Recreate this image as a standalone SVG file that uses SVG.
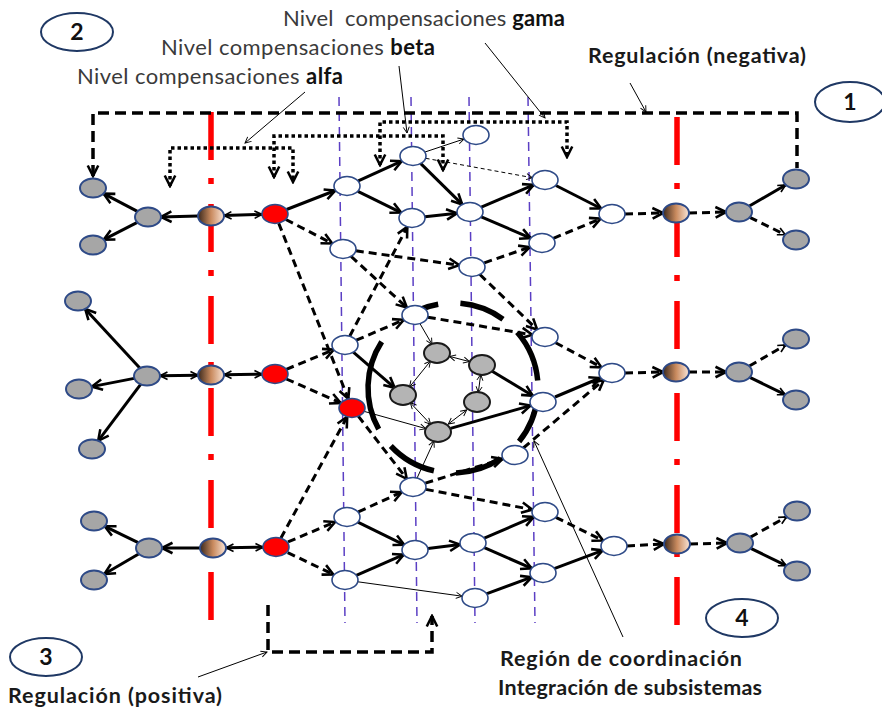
<svg xmlns="http://www.w3.org/2000/svg" width="882" height="710" viewBox="0 0 882 710">
<style>
.s{stroke:#000;stroke-width:3;fill:none}
.d{stroke:#000;stroke-width:3;stroke-dasharray:8 5;fill:none}
.t{stroke:#000;stroke-width:1;fill:none}
.td{stroke:#000;stroke-width:1;stroke-dasharray:4 3;fill:none}
.dot{stroke:#000;stroke-width:3.5;stroke-dasharray:3.5 3;fill:none}
.reg{stroke:#000;stroke-width:3.5;stroke-dasharray:11 6;fill:none}
.pl{stroke:#5b3fc4;stroke-width:1.5;stroke-dasharray:9 6}
.rl{stroke:#ff0000;stroke-width:5.5;stroke-dasharray:48 18 6 20}
.arc{stroke:#000;stroke-width:5.5;fill:none}
.w{fill:#fff;stroke:#2e4a87;stroke-width:1.6}
.g{fill:#a6a6a6;stroke:#2e4a87;stroke-width:2}
.r{fill:#ff0000;stroke:#2e4a87;stroke-width:1.6}
.gr{fill:url(#grad);stroke:#2e4a87;stroke-width:2}
.ig{fill:#b4b4b4;stroke:#1a1a1a;stroke-width:2}
.lv{font-family:Lato,"Open Sans","Liberation Sans",sans-serif;font-size:22px;fill:#3a3a3a}
.lb{font-family:Lato,"Open Sans","Liberation Sans",sans-serif;font-size:21.5px;font-weight:bold;fill:#1a1a1a}
.num{font-family:Lato,"Open Sans","Liberation Sans",sans-serif;font-size:23px;font-weight:bold;fill:#111;text-anchor:middle}
.ov{fill:#fff;stroke:#1f3864;stroke-width:2}
</style>
<defs>
<linearGradient id="grad" x1="0" y1="0" x2="1" y2="0">
<stop offset="0" stop-color="#3a281c"/>
<stop offset="0.5" stop-color="#c98a5e"/>
<stop offset="1" stop-color="#fbe6d8"/>
</linearGradient>
<marker id="a" viewBox="0 0 12 12" refX="10" refY="6" markerWidth="14" markerHeight="14" markerUnits="userSpaceOnUse" orient="auto-start-reverse">
<path d="M1,1.5 L10,6 L1,10.5" fill="none" stroke="#000" stroke-width="2.2" stroke-dasharray="none"/>
</marker>
<marker id="m" viewBox="0 0 12 12" refX="10" refY="6" markerWidth="10" markerHeight="10" markerUnits="userSpaceOnUse" orient="auto-start-reverse">
<path d="M1,1.5 L10,6 L1,10.5" fill="none" stroke="#000" stroke-width="2" stroke-dasharray="none"/>
</marker>
<marker id="s" viewBox="0 0 12 12" refX="10" refY="6" markerWidth="8" markerHeight="8" markerUnits="userSpaceOnUse" orient="auto-start-reverse">
<path d="M1,1.5 L10,6 L1,10.5" fill="none" stroke="#000" stroke-width="1.4" stroke-dasharray="none"/>
</marker>
</defs>
<rect width="882" height="710" fill="#fff"/>

<g id="guides">
<line class="pl" x1="339" y1="97" x2="345" y2="623"/>
<line class="pl" x1="411" y1="97" x2="417" y2="623"/>
<line class="pl" x1="469" y1="97" x2="475" y2="623"/>
<line class="pl" x1="528" y1="97" x2="535" y2="623"/>
<line class="rl" x1="211" y1="112" x2="211" y2="625"/>
<line class="rl" x1="677" y1="117" x2="677" y2="630"/>
</g>

<g id="coordination-circle">
<path class="arc" d="M403,319.2 A85,85 0 0 1 438.2,304.3"/>
<path class="arc" d="M460.4,303.3 A85,85 0 0 1 503,319.2"/>
<path class="arc" d="M517.2,332.2 A85,85 0 0 1 537.7,380.6"/>
<path class="arc" d="M537.5,396.9 A85,85 0 0 1 519.1,441.5"/>
<path class="arc" d="M500.5,458.5 A85,85 0 0 1 456,472.9"/>
<path class="arc" d="M433.9,470.8 A85,85 0 0 1 390.8,446"/>
<path class="arc" d="M378.7,429.2 A85,85 0 0 1 381.7,341.7"/>
</g>

<g id="connectors">
<path class="reg" d="M93,176 V113 H797 V168" marker-start="url(#a)"/>
<path class="reg" d="M268,605 V652 H432 V616" marker-end="url(#a)"/>
<path class="dot" d="M170,186 V148 H293 V182" marker-start="url(#a)" marker-end="url(#a)"/>
<path class="dot" d="M274,177 V136 H443 V170" marker-start="url(#a)" marker-end="url(#a)"/>
<path class="dot" d="M380,165 V122 H567 V157" marker-start="url(#a)" marker-end="url(#a)"/>
<line class="t" x1="305" y1="92" x2="245" y2="143" marker-end="url(#s)"/>
<line class="t" x1="399" y1="66" x2="407" y2="133" marker-end="url(#s)"/>
<line class="t" x1="485" y1="43" x2="545" y2="118" marker-end="url(#s)"/>
<line class="t" x1="630" y1="83" x2="646" y2="112" marker-end="url(#s)"/>
<line class="t" x1="198" y1="677" x2="267" y2="652" marker-end="url(#s)"/>
<line class="t" x1="623" y1="637" x2="534" y2="441" marker-end="url(#s)"/>
<line class="s" x1="137.4" y1="211.4" x2="103.6" y2="193.6" marker-end="url(#a)"/>
<line class="s" x1="137.3" y1="222.4" x2="103.7" y2="239.6" marker-end="url(#a)"/>
<line class="s" x1="198" y1="216" x2="161" y2="217" marker-end="url(#a)"/>
<line class="s" x1="224" y1="215.6" x2="262" y2="214.4" marker-start="url(#m)" marker-end="url(#m)"/>
<line class="s" x1="139.8" y1="368.1" x2="85.2" y2="308.9" marker-end="url(#a)"/>
<line class="s" x1="134.2" y1="378.4" x2="91.8" y2="386.6" marker-end="url(#a)"/>
<line class="s" x1="140.8" y1="384.2" x2="98.2" y2="440.8" marker-end="url(#a)"/>
<line class="s" x1="160" y1="375.8" x2="198" y2="375.2" marker-start="url(#m)" marker-end="url(#m)"/>
<line class="s" x1="224" y1="374.8" x2="262" y2="374.2" marker-start="url(#m)" marker-end="url(#m)"/>
<line class="s" x1="200" y1="548" x2="162" y2="548" marker-end="url(#a)"/>
<line class="s" x1="138.2" y1="542.7" x2="104.8" y2="526.3" marker-end="url(#a)"/>
<line class="s" x1="138.6" y1="554" x2="104.4" y2="574" marker-end="url(#a)"/>
<line class="s" x1="226" y1="547.8" x2="263" y2="547.2" marker-start="url(#m)" marker-end="url(#m)"/>
<line class="d" x1="625" y1="214" x2="663" y2="213" marker-end="url(#a)"/>
<line class="d" x1="689" y1="213" x2="726" y2="212" marker-end="url(#a)"/>
<line class="s" x1="749.4" y1="206" x2="785.6" y2="185" marker-end="url(#m)"/>
<line class="d" x1="749.8" y1="217.3" x2="785.2" y2="234.7" marker-end="url(#m)"/>
<line class="d" x1="625" y1="373" x2="663" y2="372" marker-end="url(#a)"/>
<line class="d" x1="689" y1="372" x2="726" y2="372" marker-end="url(#a)"/>
<line class="d" x1="749.4" y1="366" x2="785.6" y2="345" marker-end="url(#m)"/>
<line class="s" x1="749.8" y1="377.3" x2="785.2" y2="394.7" marker-end="url(#m)"/>
<line class="d" x1="627" y1="546" x2="664" y2="544" marker-end="url(#a)"/>
<line class="d" x1="690" y1="544" x2="727" y2="543" marker-end="url(#a)"/>
<line class="d" x1="750.5" y1="537.1" x2="786.5" y2="516.9" marker-end="url(#m)"/>
<line class="s" x1="750.8" y1="548.3" x2="786.2" y2="565.7" marker-end="url(#m)"/>
<line class="s" x1="286.6" y1="209.5" x2="335.3" y2="190.5" marker-end="url(#a)"/>
<line class="s" x1="358.3" y1="180.9" x2="401.7" y2="161.1" marker-end="url(#a)"/>
<line class="s" x1="357.9" y1="191.4" x2="401.1" y2="212.6" marker-end="url(#a)"/>
<line class="s" x1="420.8" y1="163.6" x2="462.2" y2="204.4" marker-end="url(#a)"/>
<line class="s" x1="425" y1="216.7" x2="457" y2="213.3" marker-end="url(#a)"/>
<line class="t" x1="425" y1="152" x2="464" y2="139" marker-end="url(#s)"/>
<line class="td" x1="425.6" y1="158.3" x2="532.4" y2="177.7" marker-end="url(#s)"/>
<line class="s" x1="481.3" y1="207.2" x2="533.7" y2="184.8" marker-end="url(#a)"/>
<line class="s" x1="481.3" y1="216.9" x2="530.7" y2="238.1" marker-end="url(#a)"/>
<line class="s" x1="555.9" y1="185.5" x2="601.1" y2="208.5" marker-end="url(#a)"/>
<line class="d" x1="553.4" y1="238.3" x2="600.6" y2="218.7" marker-end="url(#a)"/>
<line class="d" x1="285.8" y1="219.5" x2="332.2" y2="243.5" marker-end="url(#a)"/>
<line class="d" x1="355.8" y1="250.8" x2="459.2" y2="265.2" marker-end="url(#a)"/>
<line class="d" x1="484.3" y1="262.8" x2="529.7" y2="247.2" marker-end="url(#a)"/>
<line class="d" x1="351.1" y1="256.4" x2="406.9" y2="307.6" marker-end="url(#a)"/>
<line class="d" x1="349.7" y1="336.2" x2="407.3" y2="226.8" marker-end="url(#a)"/>
<line class="d" x1="479.9" y1="274.5" x2="537.1" y2="329.5" marker-end="url(#a)"/>
<line class="d" x1="427.8" y1="317.2" x2="532.2" y2="334.8" marker-end="url(#a)"/>
<line class="d" x1="555.6" y1="342.7" x2="601.4" y2="367.3" marker-end="url(#a)"/>
<line class="d" x1="356.3" y1="340.2" x2="403.7" y2="319.8" marker-end="url(#a)"/>
<line class="d" x1="286.3" y1="369.3" x2="333.7" y2="349.7" marker-end="url(#a)"/>
<line class="d" x1="286.3" y1="379" x2="340.7" y2="403" marker-end="url(#a)"/>
<line class="d" x1="278.7" y1="223.2" x2="348.3" y2="398.8" marker-end="url(#a)"/>
<line class="s" x1="353.3" y1="352.2" x2="394.7" y2="387.8" marker-end="url(#a)"/>
<line class="t" x1="364.2" y1="411.4" x2="425.8" y2="428.6" marker-end="url(#s)"/>
<line class="t" x1="420" y1="323.7" x2="432" y2="344.3" marker-end="url(#s)"/>
<line class="t" x1="430.5" y1="361" x2="409.5" y2="387" marker-start="url(#s)" marker-end="url(#s)"/>
<line class="t" x1="449.6" y1="356.4" x2="469.4" y2="361.6" marker-start="url(#s)" marker-end="url(#s)"/>
<line class="t" x1="480.7" y1="374.4" x2="478.3" y2="392.6" marker-start="url(#s)" marker-end="url(#s)"/>
<line class="t" x1="410.3" y1="402.7" x2="430.7" y2="424.3" marker-start="url(#s)" marker-end="url(#s)"/>
<line class="t" x1="466.7" y1="410" x2="448.3" y2="424" marker-start="url(#s)" marker-end="url(#s)"/>
<line class="s" x1="492.2" y1="371.2" x2="532.8" y2="395.8" marker-end="url(#a)"/>
<line class="s" x1="450.5" y1="428.4" x2="530.5" y2="405.6" marker-end="url(#a)"/>
<line class="s" x1="555" y1="397" x2="600" y2="378" marker-end="url(#a)"/>
<line class="d" x1="523.3" y1="448" x2="603.7" y2="380" marker-end="url(#a)"/>
<line class="d" x1="358.3" y1="416.2" x2="406.7" y2="478.8" marker-end="url(#a)"/>
<line class="t" x1="417.1" y1="478" x2="434" y2="441" marker-end="url(#s)"/>
<line class="d" x1="425.4" y1="483.1" x2="502.6" y2="458.9" marker-end="url(#a)"/>
<line class="d" x1="425.8" y1="489.4" x2="532.2" y2="509.6" marker-end="url(#a)"/>
<line class="d" x1="288" y1="541.9" x2="335" y2="522" marker-end="url(#a)"/>
<line class="d" x1="287.7" y1="552.6" x2="333.3" y2="574.4" marker-end="url(#a)"/>
<line class="d" x1="358.3" y1="511.9" x2="401.7" y2="492.1" marker-end="url(#a)"/>
<line class="s" x1="357.8" y1="522.2" x2="404.2" y2="544.8" marker-end="url(#a)"/>
<line class="s" x1="356.3" y1="575.3" x2="403.7" y2="554.7" marker-end="url(#a)"/>
<line class="s" x1="428" y1="548.4" x2="460" y2="544.6" marker-end="url(#a)"/>
<line class="s" x1="484.3" y1="538.1" x2="533.7" y2="516.9" marker-end="url(#a)"/>
<line class="s" x1="484.3" y1="547.7" x2="531.7" y2="568.3" marker-end="url(#a)"/>
<line class="t" x1="357.9" y1="581.8" x2="462.1" y2="596.2" marker-end="url(#s)"/>
<line class="s" x1="486.3" y1="593.9" x2="531.7" y2="577.2" marker-end="url(#a)"/>
<line class="d" x1="555.9" y1="517.4" x2="603.1" y2="540.6" marker-end="url(#a)"/>
<line class="s" x1="554.2" y1="568.7" x2="602.8" y2="550.3" marker-end="url(#a)"/>
<line class="d" x1="280.8" y1="538.2" x2="347.2" y2="416.8" marker-end="url(#a)"/>
</g>

<g id="n-LT1"><ellipse class="g" cx="93" cy="188" rx="13" ry="9.5"/></g>
<g id="n-LT2"><ellipse class="g" cx="148" cy="217" rx="13" ry="9.5"/></g>
<g id="n-LT3"><ellipse class="g" cx="93" cy="245" rx="13" ry="9.5"/></g>
<g id="n-GT"><ellipse class="gr" cx="211" cy="216" rx="13" ry="9.5"/></g>
<g id="n-R1"><ellipse class="r" cx="275" cy="214" rx="13" ry="9.5"/></g>
<g id="n-LM1"><ellipse class="g" cx="78" cy="301" rx="13" ry="9.5"/></g>
<g id="n-LM2"><ellipse class="g" cx="79" cy="389" rx="13" ry="9.5"/></g>
<g id="n-LM3"><ellipse class="g" cx="92" cy="449" rx="13" ry="9.5"/></g>
<g id="n-LMc"><ellipse class="g" cx="147" cy="376" rx="13" ry="9.5"/></g>
<g id="n-GM"><ellipse class="gr" cx="211" cy="375" rx="13" ry="9.5"/></g>
<g id="n-R2"><ellipse class="r" cx="275" cy="374" rx="13" ry="9.5"/></g>
<g id="n-LB1"><ellipse class="g" cx="94" cy="521" rx="13" ry="9.5"/></g>
<g id="n-LB2"><ellipse class="g" cx="94" cy="580" rx="13" ry="9.5"/></g>
<g id="n-LBc"><ellipse class="g" cx="149" cy="548" rx="13" ry="9.5"/></g>
<g id="n-GB"><ellipse class="gr" cx="213" cy="548" rx="13" ry="9.5"/></g>
<g id="n-R3"><ellipse class="r" cx="276" cy="547" rx="13" ry="9.5"/></g>

<g id="n-J1"><ellipse class="w" cx="612" cy="214" rx="13" ry="9.5"/></g>
<g id="n-GR1"><ellipse class="gr" cx="676" cy="213" rx="13" ry="9.5"/></g>
<g id="n-RC1"><ellipse class="g" cx="739" cy="212" rx="13" ry="9.5"/></g>
<g id="n-RT1a"><ellipse class="g" cx="796" cy="179" rx="13" ry="9.5"/></g>
<g id="n-RT1b"><ellipse class="g" cx="796" cy="240" rx="13" ry="9.5"/></g>
<g id="n-J2"><ellipse class="w" cx="612" cy="373" rx="13" ry="9.5"/></g>
<g id="n-GR2"><ellipse class="gr" cx="676" cy="372" rx="13" ry="9.5"/></g>
<g id="n-RC2"><ellipse class="g" cx="739" cy="372" rx="13" ry="9.5"/></g>
<g id="n-RT2a"><ellipse class="g" cx="796" cy="339" rx="13" ry="9.5"/></g>
<g id="n-RT2b"><ellipse class="g" cx="796" cy="400" rx="13" ry="9.5"/></g>
<g id="n-J3"><ellipse class="w" cx="614" cy="546" rx="13" ry="9.5"/></g>
<g id="n-GR3"><ellipse class="gr" cx="677" cy="544" rx="13" ry="9.5"/></g>
<g id="n-RC3"><ellipse class="g" cx="740" cy="543" rx="13" ry="9.5"/></g>
<g id="n-RT3a"><ellipse class="g" cx="797" cy="511" rx="13" ry="9.5"/></g>
<g id="n-RT3b"><ellipse class="g" cx="797" cy="571" rx="13" ry="9.5"/></g>

<g id="n-A"><ellipse class="w" cx="347" cy="186" rx="13" ry="9.5"/></g>
<g id="n-B"><ellipse class="w" cx="413" cy="156" rx="13" ry="9.5"/></g>
<g id="n-C"><ellipse class="w" cx="412" cy="218" rx="13" ry="9.5"/></g>
<g id="n-D"><ellipse class="w" cx="476" cy="135" rx="13" ry="9.5"/></g>
<g id="n-E"><ellipse class="w" cx="470" cy="212" rx="13" ry="9.5"/></g>
<g id="n-F"><ellipse class="w" cx="545" cy="180" rx="13" ry="9.5"/></g>
<g id="n-G"><ellipse class="w" cx="542" cy="243" rx="13" ry="9.5"/></g>
<g id="n-H"><ellipse class="w" cx="343" cy="249" rx="13" ry="9.5"/></g>
<g id="n-I"><ellipse class="w" cx="472" cy="267" rx="13" ry="9.5"/></g>
<g id="n-K"><ellipse class="w" cx="415" cy="315" rx="13" ry="9.5"/></g>
<g id="n-N"><ellipse class="w" cx="545" cy="337" rx="13" ry="9.5"/></g>
<g id="n-M"><ellipse class="w" cx="345" cy="345" rx="13" ry="9.5"/></g>
<g id="n-R4"><ellipse class="r" cx="352" cy="408" rx="13" ry="9.5"/></g>
<g id="n-g1"><ellipse class="ig" cx="437" cy="353" rx="13" ry="10"/></g>
<g id="n-g2"><ellipse class="ig" cx="482" cy="365" rx="13" ry="10"/></g>
<g id="n-g3"><ellipse class="ig" cx="403" cy="395" rx="13" ry="10"/></g>
<g id="n-g4"><ellipse class="ig" cx="477" cy="402" rx="13" ry="10"/></g>
<g id="n-g5"><ellipse class="ig" cx="438" cy="432" rx="13" ry="10"/></g>
<g id="n-O"><ellipse class="w" cx="543" cy="402" rx="13" ry="9.5"/></g>
<g id="n-P"><ellipse class="w" cx="515" cy="455" rx="13" ry="9.5"/></g>
<g id="n-Q"><ellipse class="w" cx="413" cy="487" rx="13" ry="9.5"/></g>
<g id="n-T"><ellipse class="w" cx="347" cy="517" rx="13" ry="9.5"/></g>
<g id="n-V"><ellipse class="w" cx="415" cy="550" rx="13" ry="9.5"/></g>
<g id="n-W"><ellipse class="w" cx="473" cy="543" rx="13" ry="9.5"/></g>
<g id="n-S"><ellipse class="w" cx="545" cy="512" rx="13" ry="9.5"/></g>
<g id="n-X"><ellipse class="w" cx="543" cy="573" rx="13" ry="9.5"/></g>
<g id="n-Y"><ellipse class="w" cx="345" cy="580" rx="13" ry="9.5"/></g>
<g id="n-Z"><ellipse class="w" cx="475" cy="598" rx="13" ry="9.5"/></g>

<g id="n-label1"><ellipse class="ov" cx="850" cy="102" rx="35" ry="20"/><text class="num" x="850" y="110">1</text></g>
<g id="n-label2"><ellipse class="ov" cx="77" cy="32" rx="36" ry="19"/><text class="num" x="77" y="40">2</text></g>
<g id="n-label3"><ellipse class="ov" cx="46" cy="657" rx="36" ry="19"/><text class="num" x="46" y="665">3</text></g>
<g id="n-label4"><ellipse class="ov" cx="742" cy="618" rx="36" ry="19"/><text class="num" x="742" y="626">4</text></g>

<g id="texts">
<text class="lv" x="283" y="26" textLength="282" xml:space="preserve">Nivel  compensaciones <tspan font-weight="bold" fill="#111">gama</tspan></text>
<text class="lv" x="161" y="55" textLength="274">Nivel compensaciones <tspan font-weight="bold" fill="#111">beta</tspan></text>
<text class="lv" x="77" y="84" textLength="266">Nivel compensaciones <tspan font-weight="bold" fill="#111">alfa</tspan></text>
<text class="lb" x="588" y="63" textLength="218">Regulación (negativa)</text>
<text class="lb" x="8" y="703" textLength="214">Regulación (positiva)</text>
<text class="lb" x="500" y="666" textLength="242">Región de coordinación</text>
<text class="lb" x="498" y="695" textLength="264">Integración de subsistemas</text>
</g>
</svg>
